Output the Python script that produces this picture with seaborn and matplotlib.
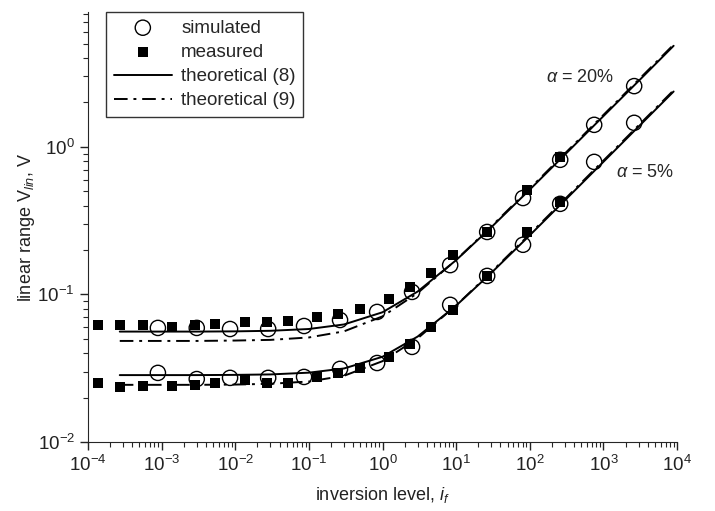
import matplotlib
matplotlib.use("Agg")
import matplotlib.pyplot as plt
import seaborn as sns
import pandas as pd
from matplotlib.ticker import LogLocator, NullFormatter

# simulated points (open circles)
sim_x = [8.9e-4, 3.0e-3, 8.5e-3, 2.8e-2, 8.6e-2, 0.265, 0.845, 2.52, 8.3, 26.4, 81, 259, 750, 2620]
sim_20 = [0.0593, 0.0593, 0.0583, 0.0583, 0.0611, 0.0671, 0.0761, 0.104, 0.158, 0.265, 0.450, 0.817, 1.41, 2.58]
sim_5 = [0.0294, 0.0267, 0.0272, 0.0272, 0.0276, 0.0313, 0.0343, 0.0441, 0.085, 0.1335, 0.217, 0.411, 0.791, 1.455]

# measured points (filled squares)
meas_x = [1.37e-4, 2.7e-4, 5.6e-4, 1.4e-3, 2.8e-3, 5.3e-3, 1.36e-2, 2.7e-2, 5.2e-2, 0.13, 0.25,
          0.5, 1.23, 2.37, 4.6, 9.1, 26, 92, 260]
meas_20 = [0.0621, 0.0621, 0.0621, 0.0603, 0.0621, 0.0631, 0.0651, 0.0651, 0.0661, 0.0704, 0.0738,
           0.0798, 0.0932, 0.1125, 0.140, 0.185, 0.265, 0.511, 0.855]
meas_5 = [0.0251, 0.0236, 0.0240, 0.0240, 0.0244, 0.0251, 0.0263, 0.0251, 0.0251, 0.0276, 0.0294,
          0.0318, 0.0377, 0.0462, 0.0603, 0.0785, 0.1335, 0.265, 0.424]

# theoretical curves
th_x = [2.7e-4, 1e-3, 3e-3, 1e-2, 3e-2, 0.1, 0.3, 1, 3, 10, 30, 100, 300, 1000, 3000, 9000]
th8_20 = [0.056, 0.056, 0.056, 0.0562, 0.0567, 0.0583, 0.0626, 0.0757, 0.1046, 0.1707, 0.285, 0.513,
          0.885, 1.614, 2.79, 4.84]
th9_20 = [0.0484, 0.0484, 0.0484, 0.0487, 0.0492, 0.0511, 0.0562, 0.0710, 0.1022, 0.1713, 0.2887,
          0.5219, 0.9013, 1.644, 2.846, 4.93]
th8_5 = [0.0284, 0.0284, 0.0284, 0.0285, 0.0287, 0.0295, 0.0315, 0.0378, 0.0518, 0.0840, 0.1398,
         0.2516, 0.434, 0.791, 1.370, 2.372]
th9_5 = [0.0244, 0.0244, 0.0244, 0.0245, 0.0248, 0.0257, 0.0281, 0.0353, 0.0504, 0.0842, 0.1418,
         0.2561, 0.4423, 0.8066, 1.3966, 2.419]

x_ticks = [1e-4, 1e-3, 1e-2, 1e-1, 1, 10, 100, 1000, 1e4]
y_ticks = [1e-2, 1e-1, 1]

sns.set_style("ticks")
plt.rcParams['font.family'] = ['Liberation Sans', 'DejaVu Sans']
plt.rcParams['mathtext.fontset'] = 'custom'
plt.rcParams['mathtext.rm'] = 'Liberation Sans'
plt.rcParams['mathtext.it'] = 'Liberation Sans:italic'
plt.rcParams['mathtext.default'] = 'regular'

fig = plt.figure(figsize=(7.15, 5.11), dpi=100)
ax = fig.add_axes([88 / 715, 69 / 511, 589 / 715, 430 / 511])

dd = (7, 3, 1.5, 3)
for y, ls, lab in [(th8_20, '-', 'theoretical (8)'), (th8_5, '-', None),
                   (th9_20, '--', 'theoretical (9)'), (th9_5, '--', None)]:
    df = pd.DataFrame({'x': th_x, 'y': y})
    sns.lineplot(data=df, x='x', y='y', ax=ax, color='black', lw=1.4, estimator=None,
                 sort=False, label=lab, legend=False)
    if ls == '--':
        ax.lines[-1].set_dashes(dd)

for y, lab in [(sim_20, 'simulated'), (sim_5, None)]:
    sns.scatterplot(x=sim_x, y=y, ax=ax, marker='o', s=120, facecolor='none',
                    edgecolor='black', linewidth=1.0, label=lab, legend=False, zorder=3)
for y, lab in [(meas_20, 'measured'), (meas_5, None)]:
    sns.scatterplot(x=meas_x, y=y, ax=ax, marker='s', s=60, color='black',
                    linewidth=0, label=lab, legend=False, zorder=4)

ax.set_xscale('log')
ax.set_yscale('log')
ax.set_xticks(x_ticks)
ax.set_yticks(y_ticks)
ax.xaxis.set_minor_locator(LogLocator(base=10, subs=range(2, 10), numticks=20))
ax.xaxis.set_minor_formatter(NullFormatter())
ax.yaxis.set_minor_formatter(NullFormatter())
ax.set_xlim(1e-4, 1e4)
ax.set_ylim(1e-2, 8.2)
sns.despine(ax=ax)
ax.tick_params(which='major', length=6, width=1, labelsize=13.5, colors='#222222')
ax.tick_params(which='minor', length=3.5, width=0.8)

ax.set_xlabel(r'inversion level, $\mathit{i_f}$', fontsize=13, color='#222222', labelpad=7)
ax.set_ylabel(r'linear range V$_{\mathit{lin}}$, V', fontsize=13, color='#222222', labelpad=0)

ax.text(480, 2.94, r'$\mathit{\alpha}$ = 20%', fontsize=13, ha='center', va='center')
ax.text(3700, 0.667, r'$\mathit{\alpha}$ = 5%', fontsize=13, ha='center', va='center')

h, l = ax.get_legend_handles_labels()
order = ['simulated', 'measured', 'theoretical (8)', 'theoretical (9)']
hd = dict(zip(l, h))
leg = ax.legend([hd[k] for k in order], order, loc='upper left', bbox_to_anchor=(0.031, 1.0),
                borderaxespad=0, frameon=True, fancybox=False, edgecolor='black', fontsize=13.5,
                handlelength=3.1, handletextpad=0.5, labelspacing=0.38)
leg.get_frame().set_linewidth(1.0)

fig.savefig('out.png', dpi=100)
